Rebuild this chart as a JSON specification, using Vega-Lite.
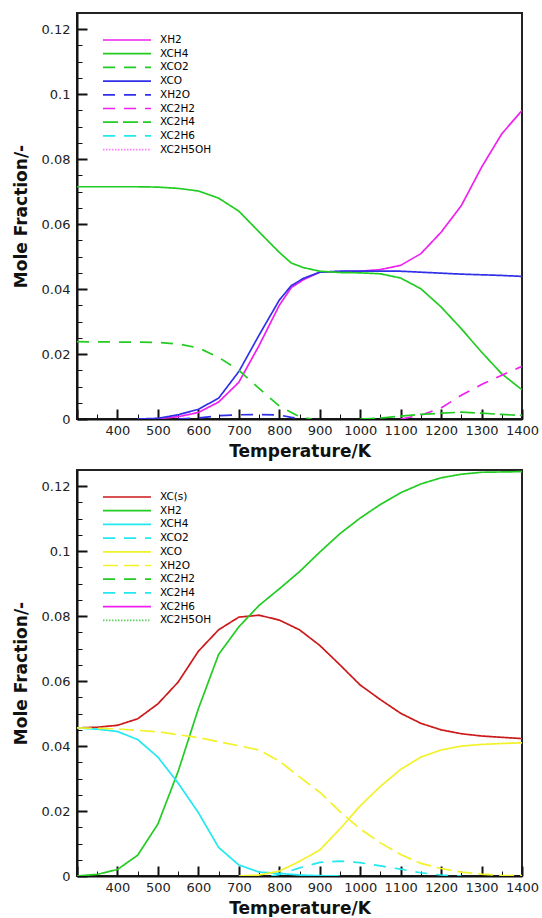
{
  "$schema": "https://vega.github.io/schema/vega-lite/v6.json",
  "background": "white",
  "padding": {"left": 11, "top": 12, "right": 0, "bottom": 0},
  "bounds": "flush",
  "spacing": 51,
  "datasets": {
    "top": [
      {"s":"XH2","T":450,"v":0},{"s":"XH2","T":500,"v":0.0001},{"s":"XH2","T":550,"v":0.0007},{"s":"XH2","T":600,"v":0.002},{"s":"XH2","T":650,"v":0.0052},{"s":"XH2","T":700,"v":0.0113},{"s":"XH2","T":750,"v":0.0226},{"s":"XH2","T":800,"v":0.035},{"s":"XH2","T":830,"v":0.0405},{"s":"XH2","T":860,"v":0.0429},{"s":"XH2","T":900,"v":0.0452},{"s":"XH2","T":950,"v":0.0454},{"s":"XH2","T":1000,"v":0.0455},{"s":"XH2","T":1050,"v":0.046},{"s":"XH2","T":1100,"v":0.0473},{"s":"XH2","T":1150,"v":0.0509},{"s":"XH2","T":1200,"v":0.0575},{"s":"XH2","T":1250,"v":0.0657},{"s":"XH2","T":1300,"v":0.0775},{"s":"XH2","T":1350,"v":0.0878},{"s":"XH2","T":1400,"v":0.095},
      {"s":"XCO","T":450,"v":0},{"s":"XCO","T":500,"v":0.0002},{"s":"XCO","T":550,"v":0.0013},{"s":"XCO","T":600,"v":0.003},{"s":"XCO","T":650,"v":0.0064},{"s":"XCO","T":700,"v":0.0146},{"s":"XCO","T":750,"v":0.0258},{"s":"XCO","T":800,"v":0.0366},{"s":"XCO","T":830,"v":0.0411},{"s":"XCO","T":860,"v":0.0433},{"s":"XCO","T":900,"v":0.0452},{"s":"XCO","T":950,"v":0.0455},{"s":"XCO","T":1000,"v":0.0455},{"s":"XCO","T":1050,"v":0.0455},{"s":"XCO","T":1100,"v":0.0455},{"s":"XCO","T":1150,"v":0.0452},{"s":"XCO","T":1200,"v":0.0449},{"s":"XCO","T":1250,"v":0.0446},{"s":"XCO","T":1300,"v":0.0444},{"s":"XCO","T":1350,"v":0.0442},{"s":"XCO","T":1400,"v":0.0439},
      {"s":"XCH4","T":300,"v":0.0715},{"s":"XCH4","T":450,"v":0.0715},{"s":"XCH4","T":500,"v":0.0714},{"s":"XCH4","T":550,"v":0.071},{"s":"XCH4","T":600,"v":0.0702},{"s":"XCH4","T":650,"v":0.068},{"s":"XCH4","T":700,"v":0.064},{"s":"XCH4","T":750,"v":0.0576},{"s":"XCH4","T":800,"v":0.0513},{"s":"XCH4","T":830,"v":0.048},{"s":"XCH4","T":860,"v":0.0466},{"s":"XCH4","T":900,"v":0.0455},{"s":"XCH4","T":950,"v":0.0451},{"s":"XCH4","T":1000,"v":0.045},{"s":"XCH4","T":1050,"v":0.0447},{"s":"XCH4","T":1100,"v":0.0434},{"s":"XCH4","T":1150,"v":0.0401},{"s":"XCH4","T":1200,"v":0.0345},{"s":"XCH4","T":1250,"v":0.0278},{"s":"XCH4","T":1300,"v":0.0206},{"s":"XCH4","T":1350,"v":0.0139},{"s":"XCH4","T":1400,"v":0.009},
      {"s":"XCO2","T":300,"v":0.0238},{"s":"XCO2","T":500,"v":0.0236},{"s":"XCO2","T":550,"v":0.0231},{"s":"XCO2","T":600,"v":0.0219},{"s":"XCO2","T":650,"v":0.019},{"s":"XCO2","T":700,"v":0.015},{"s":"XCO2","T":750,"v":0.0094},{"s":"XCO2","T":800,"v":0.004},{"s":"XCO2","T":850,"v":0.0007},{"s":"XCO2","T":880,"v":0},
      {"s":"XH2O","T":550,"v":0},{"s":"XH2O","T":600,"v":0.0003},{"s":"XH2O","T":650,"v":0.001},{"s":"XH2O","T":700,"v":0.0013},{"s":"XH2O","T":750,"v":0.0014},{"s":"XH2O","T":800,"v":0.0012},{"s":"XH2O","T":830,"v":0.0005},{"s":"XH2O","T":860,"v":0},
      {"s":"XC2H2","T":1100,"v":0},{"s":"XC2H2","T":1150,"v":0.0012},{"s":"XC2H2","T":1200,"v":0.0034},{"s":"XC2H2","T":1250,"v":0.0073},{"s":"XC2H2","T":1300,"v":0.0106},{"s":"XC2H2","T":1350,"v":0.0135},{"s":"XC2H2","T":1400,"v":0.0162},
      {"s":"XC2H4","T":1000,"v":0},{"s":"XC2H4","T":1050,"v":0.0003},{"s":"XC2H4","T":1100,"v":0.0009},{"s":"XC2H4","T":1150,"v":0.0014},{"s":"XC2H4","T":1200,"v":0.0018},{"s":"XC2H4","T":1250,"v":0.0021},{"s":"XC2H4","T":1300,"v":0.0018},{"s":"XC2H4","T":1350,"v":0.0014},{"s":"XC2H4","T":1400,"v":0.0011}
    ],
    "bottom": [
      {"s":"XC(s)","T":300,"v":0.0456},{"s":"XC(s)","T":350,"v":0.0458},{"s":"XC(s)","T":400,"v":0.0464},{"s":"XC(s)","T":450,"v":0.0484},{"s":"XC(s)","T":500,"v":0.053},{"s":"XC(s)","T":550,"v":0.0597},{"s":"XC(s)","T":600,"v":0.0692},{"s":"XC(s)","T":650,"v":0.0758},{"s":"XC(s)","T":700,"v":0.0797},{"s":"XC(s)","T":750,"v":0.0803},{"s":"XC(s)","T":800,"v":0.0788},{"s":"XC(s)","T":850,"v":0.0758},{"s":"XC(s)","T":900,"v":0.071},{"s":"XC(s)","T":950,"v":0.065},{"s":"XC(s)","T":1000,"v":0.0588},{"s":"XC(s)","T":1050,"v":0.0543},{"s":"XC(s)","T":1100,"v":0.0501},{"s":"XC(s)","T":1150,"v":0.047},{"s":"XC(s)","T":1200,"v":0.045},{"s":"XC(s)","T":1250,"v":0.0438},{"s":"XC(s)","T":1300,"v":0.0431},{"s":"XC(s)","T":1350,"v":0.0427},{"s":"XC(s)","T":1400,"v":0.0423},
      {"s":"XH2","T":300,"v":0},{"s":"XH2","T":350,"v":0.0005},{"s":"XH2","T":400,"v":0.002},{"s":"XH2","T":450,"v":0.0064},{"s":"XH2","T":500,"v":0.016},{"s":"XH2","T":550,"v":0.0322},{"s":"XH2","T":600,"v":0.0515},{"s":"XH2","T":650,"v":0.0682},{"s":"XH2","T":700,"v":0.0767},{"s":"XH2","T":750,"v":0.0833},{"s":"XH2","T":800,"v":0.0884},{"s":"XH2","T":850,"v":0.0937},{"s":"XH2","T":900,"v":0.0997},{"s":"XH2","T":950,"v":0.1054},{"s":"XH2","T":1000,"v":0.1102},{"s":"XH2","T":1050,"v":0.1144},{"s":"XH2","T":1100,"v":0.118},{"s":"XH2","T":1150,"v":0.1207},{"s":"XH2","T":1200,"v":0.1226},{"s":"XH2","T":1250,"v":0.1237},{"s":"XH2","T":1300,"v":0.1243},{"s":"XH2","T":1350,"v":0.1244},{"s":"XH2","T":1400,"v":0.1245},
      {"s":"XCH4","T":300,"v":0.0456},{"s":"XCH4","T":350,"v":0.0452},{"s":"XCH4","T":400,"v":0.0445},{"s":"XCH4","T":450,"v":0.042},{"s":"XCH4","T":500,"v":0.0366},{"s":"XCH4","T":550,"v":0.0286},{"s":"XCH4","T":600,"v":0.0195},{"s":"XCH4","T":650,"v":0.0088},{"s":"XCH4","T":700,"v":0.0034},{"s":"XCH4","T":750,"v":0.0012},{"s":"XCH4","T":800,"v":0.0008},{"s":"XCH4","T":850,"v":0.0003},{"s":"XCH4","T":900,"v":0.0001},{"s":"XCH4","T":950,"v":0},
      {"s":"XH2O","T":300,"v":0.0456},{"s":"XH2O","T":400,"v":0.0453},{"s":"XH2O","T":500,"v":0.0444},{"s":"XH2O","T":600,"v":0.0426},{"s":"XH2O","T":700,"v":0.0401},{"s":"XH2O","T":750,"v":0.0388},{"s":"XH2O","T":800,"v":0.0354},{"s":"XH2O","T":850,"v":0.0305},{"s":"XH2O","T":900,"v":0.0258},{"s":"XH2O","T":950,"v":0.0198},{"s":"XH2O","T":1000,"v":0.0145},{"s":"XH2O","T":1050,"v":0.0102},{"s":"XH2O","T":1100,"v":0.0066},{"s":"XH2O","T":1150,"v":0.0039},{"s":"XH2O","T":1200,"v":0.0023},{"s":"XH2O","T":1250,"v":0.0012},{"s":"XH2O","T":1300,"v":0.0006},{"s":"XH2O","T":1350,"v":0.0002},{"s":"XH2O","T":1400,"v":0.0001},
      {"s":"XCO","T":700,"v":0},{"s":"XCO","T":750,"v":0.0003},{"s":"XCO","T":800,"v":0.0015},{"s":"XCO","T":850,"v":0.0045},{"s":"XCO","T":900,"v":0.008},{"s":"XCO","T":950,"v":0.0145},{"s":"XCO","T":1000,"v":0.0216},{"s":"XCO","T":1050,"v":0.0276},{"s":"XCO","T":1100,"v":0.0328},{"s":"XCO","T":1150,"v":0.0366},{"s":"XCO","T":1200,"v":0.0388},{"s":"XCO","T":1250,"v":0.04},{"s":"XCO","T":1300,"v":0.0405},{"s":"XCO","T":1350,"v":0.0408},{"s":"XCO","T":1400,"v":0.041},
      {"s":"XC2H4","T":780,"v":0},{"s":"XC2H4","T":800,"v":0.0005},{"s":"XC2H4","T":850,"v":0.0025},{"s":"XC2H4","T":900,"v":0.0042},{"s":"XC2H4","T":950,"v":0.0046},{"s":"XC2H4","T":1000,"v":0.0041},{"s":"XC2H4","T":1050,"v":0.0031},{"s":"XC2H4","T":1100,"v":0.0021},{"s":"XC2H4","T":1150,"v":0.001},{"s":"XC2H4","T":1200,"v":0.0003},{"s":"XC2H4","T":1250,"v":0}
    ]
  },
  "vconcat": [
    {
      "width": 445, "height": 406,
      "data": {"name": "top"},
      "mark": {"type": "line", "strokeWidth": 1.7, "clip": true},
      "encoding": {
        "x": {"field": "T", "type": "quantitative", "scale": {"domain": [300, 1400], "nice": false, "zero": false},
          "axis": {"title": "Temperature/K", "values": [300,350,400,450,500,550,600,650,700,750,800,850,900,950,1000,1050,1100,1150,1200,1250,1300,1350,1400],
            "labelExpr": "datum.value % 100 === 0 && datum.value > 300 ? format(datum.value, 'd') : ''",
            "tickSize": {"condition": {"test": "datum.value % 100 === 0", "value": -10}, "value": -5},
            "tickWidth": {"condition": {"test": "datum.value % 100 === 0", "value": 2}, "value": 1},
            "labelPadding": 15, "titlePadding": 1, "labelFlush": false, "labelOverlap": false}},
        "y": {"field": "v", "type": "quantitative", "scale": {"domain": [0, 0.125], "nice": false},
          "axis": {"title": "Mole Fraction/-", "values": [0,0.005,0.01,0.015,0.02,0.025,0.03,0.035,0.04,0.045,0.05,0.055,0.06,0.065,0.07,0.075,0.08,0.085,0.09,0.095,0.1,0.105,0.11,0.115,0.12],
            "labelExpr": "abs(datum.value*50 - round(datum.value*50)) < 0.000001 ? format(datum.value, '.2~f') : ''",
            "tickSize": {"condition": {"test": "abs(datum.value*50 - round(datum.value*50)) < 0.000001", "value": -10}, "value": -5},
            "tickWidth": {"condition": {"test": "abs(datum.value*50 - round(datum.value*50)) < 0.000001", "value": 2}, "value": 1},
            "labelPadding": 17, "titlePadding": 11, "labelFlush": false, "labelOverlap": false}},
        "color": {"field": "s", "type": "nominal",
          "scale": {"domain": ["XH2","XCH4","XCO2","XCO","XH2O","XC2H2","XC2H4","XC2H6","XC2H5OH"],
                    "range": ["#f020f0","#22cc22","#22cc22","#3030e8","#3030e8","#f020f0","#22cc22","#22e8f0","#ff80ff"]},
          "legend": {"title": null, "orient": "none", "legendX": 26, "legendY": 21}},
        "strokeDash": {"field": "s", "type": "nominal",
          "scale": {"domain": ["XH2","XCH4","XCO2","XCO","XH2O","XC2H2","XC2H4","XC2H6","XC2H5OH"],
                    "range": [[1,0],[1,0],[12,9],[1,0],[12,9],[12,9],[15,5],[12,9],[1.5,1.5]]},
          "legend": {"title": null, "orient": "none", "legendX": 26, "legendY": 21}}
      }
    },
    {
      "width": 445, "height": 406,
      "data": {"name": "bottom"},
      "mark": {"type": "line", "strokeWidth": 1.7, "clip": true},
      "encoding": {
        "x": {"field": "T", "type": "quantitative", "scale": {"domain": [300, 1400], "nice": false, "zero": false},
          "axis": {"title": "Temperature/K", "values": [300,350,400,450,500,550,600,650,700,750,800,850,900,950,1000,1050,1100,1150,1200,1250,1300,1350,1400],
            "labelExpr": "datum.value % 100 === 0 && datum.value > 300 ? format(datum.value, 'd') : ''",
            "tickSize": {"condition": {"test": "datum.value % 100 === 0", "value": -10}, "value": -5},
            "tickWidth": {"condition": {"test": "datum.value % 100 === 0", "value": 2}, "value": 1},
            "labelPadding": 15, "titlePadding": 1, "labelFlush": false, "labelOverlap": false}},
        "y": {"field": "v", "type": "quantitative", "scale": {"domain": [0, 0.125], "nice": false},
          "axis": {"title": "Mole Fraction/-", "values": [0,0.005,0.01,0.015,0.02,0.025,0.03,0.035,0.04,0.045,0.05,0.055,0.06,0.065,0.07,0.075,0.08,0.085,0.09,0.095,0.1,0.105,0.11,0.115,0.12],
            "labelExpr": "abs(datum.value*50 - round(datum.value*50)) < 0.000001 ? format(datum.value, '.2~f') : ''",
            "tickSize": {"condition": {"test": "abs(datum.value*50 - round(datum.value*50)) < 0.000001", "value": -10}, "value": -5},
            "tickWidth": {"condition": {"test": "abs(datum.value*50 - round(datum.value*50)) < 0.000001", "value": 2}, "value": 1},
            "labelPadding": 17, "titlePadding": 11, "labelFlush": false, "labelOverlap": false}},
        "color": {"field": "s", "type": "nominal",
          "scale": {"domain": ["XC(s)","XH2","XCH4","XCO2","XCO","XH2O","XC2H2","XC2H4","XC2H6","XC2H5OH"],
                    "range": ["#cc1a1a","#22cc22","#22e8f0","#22e8f0","#f2f22a","#f2f22a","#22cc22","#22e8f0","#f020f0","#60d060"]},
          "legend": {"title": null, "orient": "none", "legendX": 26, "legendY": 21}},
        "strokeDash": {"field": "s", "type": "nominal",
          "scale": {"domain": ["XC(s)","XH2","XCH4","XCO2","XCO","XH2O","XC2H2","XC2H4","XC2H6","XC2H5OH"],
                    "range": [[1,0],[1,0],[1,0],[12,9],[1,0],[15,6],[12,9],[12,9],[1,0],[1.5,1.5]]},
          "legend": {"title": null, "orient": "none", "legendX": 26, "legendY": 21}}
      }
    }
  ],
  "resolve": {
    "scale": {"color": "independent", "strokeDash": "independent"},
    "legend": {"color": "independent", "strokeDash": "independent"}
  },
  "config": {
    "font": "DejaVu Sans",
    "view": {"stroke": "#222", "strokeWidth": 2},
    "axis": {"domainColor": "#111", "domainWidth": 2, "tickColor": "#111", "labelFont": "DejaVu Sans", "labelFontSize": 13, "labelColor": "#222",
      "titleFont": "DejaVu Sans", "titleFontSize": 17, "titleFontWeight": "bold", "titleColor": "#111", "grid": false, "zindex": 1},
    "legend": {"symbolType": "M-4.8,0H4.8", "symbolSize": 100, "symbolStrokeWidth": 1.7, "symbolOffset": 18, "labelOffset": 27,
      "rowPadding": 1.7, "padding": 0, "labelFont": "DejaVu Sans", "labelFontSize": 10.5, "labelColor": "#000", "symbolFillColor": "transparent"}
  }
}
